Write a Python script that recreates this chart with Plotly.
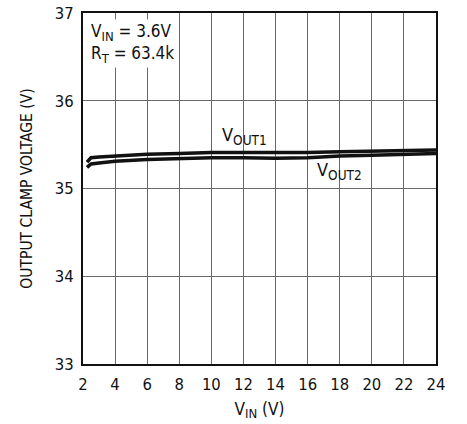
import plotly.graph_objects as go

vin = [2.25, 2.5, 3, 4, 6, 8, 10, 12, 14, 16, 18, 20, 22, 24]
vout1 = [35.30, 35.35, 35.36, 35.37, 35.39, 35.40, 35.41, 35.41, 35.41, 35.41, 35.42, 35.43, 35.44, 35.44]
vout2 = [35.24, 35.28, 35.29, 35.31, 35.33, 35.34, 35.35, 35.35, 35.345, 35.35, 35.37, 35.38, 35.39, 35.40]

x_ticks = [2, 4, 6, 8, 10, 12, 14, 16, 18, 20, 22, 24]
y_ticks = [33, 34, 35, 36, 37]

FONT = "DejaVu Sans Condensed, Liberation Sans Narrow, Roboto, sans-serif"


def sub(main, s, size):
    return f"{main}<sub><span style='font-size:{size}px'>{s}</span></sub>"


fig = go.Figure()
fig.add_trace(go.Scatter(x=vin, y=vout1, mode="lines", line=dict(color="#111", width=3.5), showlegend=False))
fig.add_trace(go.Scatter(x=vin, y=vout2, mode="lines", line=dict(color="#111", width=3.5), showlegend=False))

fig.update_layout(
    width=467, height=424,
    margin=dict(l=83, r=31, t=13, b=60),
    paper_bgcolor="white", plot_bgcolor="white",
    font=dict(family=FONT, size=17, color="#111"),
    xaxis=dict(range=[2, 24], tickvals=x_ticks, ticks="", showgrid=True, gridcolor="#6a6a6a", gridwidth=1,
               showline=True, linecolor="#111", linewidth=2, mirror=True, zeroline=False, automargin=False,
               ticklabelstandoff=4,
               title=dict(text=sub("V", "IN", 13) + " (V)", standoff=10, font=dict(size=17)),
               tickfont=dict(size=16.5)),
    yaxis=dict(range=[33, 37], tickvals=y_ticks, ticks="", showgrid=True, gridcolor="#6a6a6a", gridwidth=1,
               showline=True, linecolor="#111", linewidth=2, mirror=True, zeroline=False, automargin=False,
               ticklabelstandoff=4,
               title=dict(text="OUTPUT CLAMP VOLTAGE (V)", standoff=18, font=dict(size=15.5)),
               tickfont=dict(size=16.5)),
    annotations=[
        dict(x=2.35, y=36.93, xref="x", yref="y",
             text=sub("V", "IN", 13) + " = 3.6V<br>" + sub("R", "T", 13) + " = 63.4k",
             showarrow=False, xanchor="left", yanchor="top", align="left", font=dict(size=17),
             bgcolor="white", borderpad=1),
        dict(x=10.55, y=35.6, xref="x", yref="y", text=sub("V", "OUT1", 13.5), showarrow=False,
             xanchor="left", yanchor="middle", font=dict(size=18)),
        dict(x=16.45, y=35.2, xref="x", yref="y", text=sub("V", "OUT2", 13.5), showarrow=False,
             xanchor="left", yanchor="middle", font=dict(size=18)),
    ],
)

fig.write_html("out.html", config={"displayModeBar": False},
               post_script="document.body.style.margin='0';")
